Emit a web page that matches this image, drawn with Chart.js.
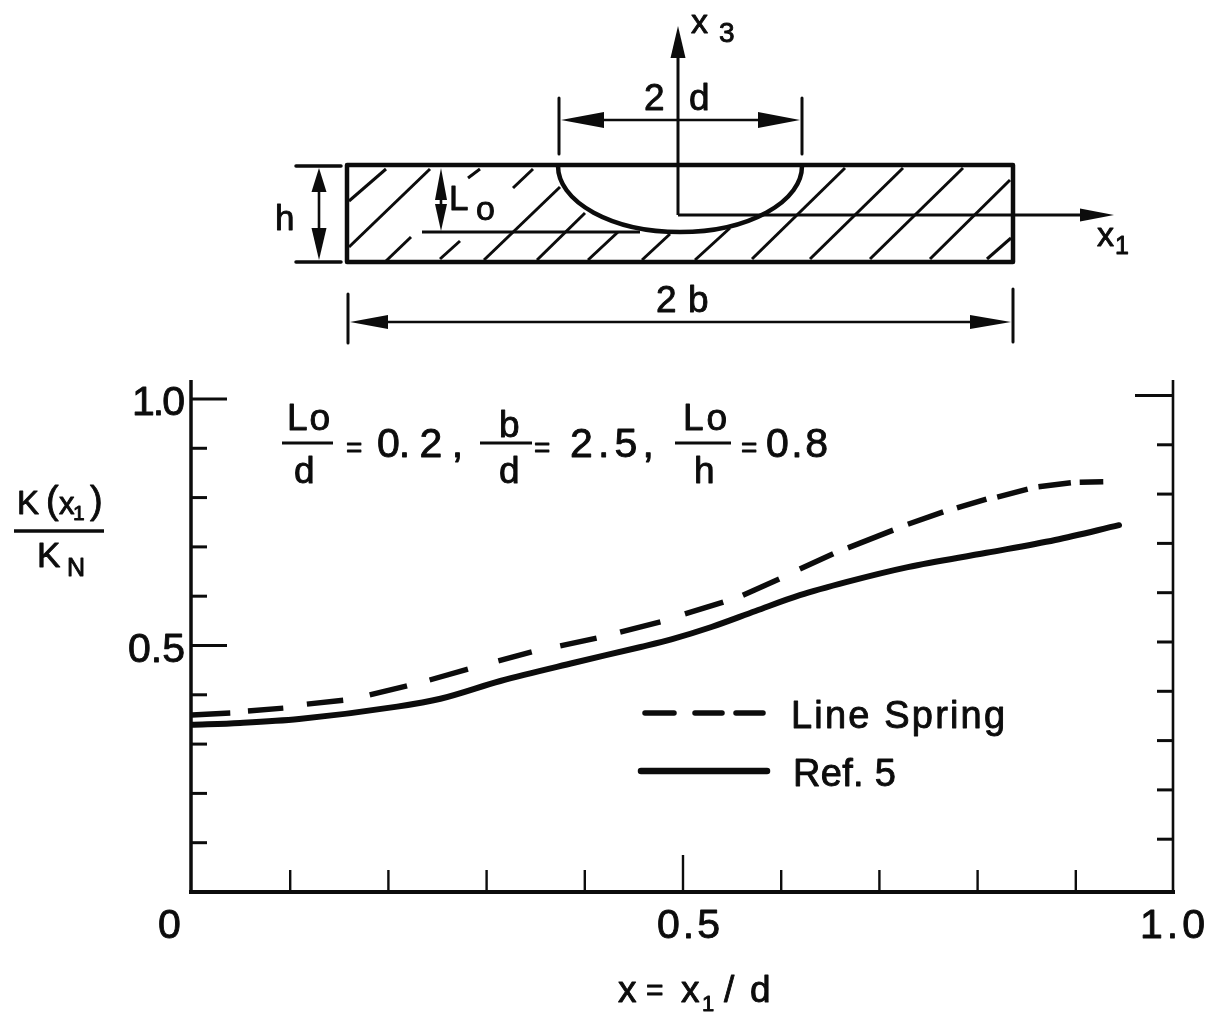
<!DOCTYPE html>
<html>
<head>
<meta charset="utf-8">
<title>K(x1)/KN</title>
<style>html,body{margin:0;padding:0;background:#fff;overflow:hidden}canvas{display:block}</style>
<script src="https://cdn.jsdelivr.net/npm/chart.js@4/dist/chart.umd.js"></script>
</head>
<body>
<canvas id="c" width="1209" height="1013"></canvas>
<script>
// ---- data ----
const refX = [0,.05,.11,.21,.254,.315,.39,.458,.49,.53,.575,.62,.668,.73,.81,.88,.945];
const refY = [.339,.343,.351,.376,.392,.428,.465,.497,.513,.5375,.57,.602,.629,.659,.688,.714,.744];
// Line Spring: points come in pairs, the start and the end of each drawn dash
const springX = [.001,.040,.058,.094,.118,.155,.182,.220,.243,.282,.313,.347,.376,.413,.437,.478,.503,.542,.562,.599,.620,.654,.669,.715,.730,.766,.780,.810,.821,.852,.863,.896,.905,.929];
const springY = [.359,.363,.367,.373,.381,.389,.400,.418,.430,.452,.469,.487,.499,.515,.527,.548,.564,.588,.602,.635,.655,.686,.698,.734,.746,.771,.779,.797,.801,.817,.822,.830,.831,.832];
const xTickLabels = ['0','0.5','1.0'];
const xTickLabelValues = [0,.5,1];
const yTickLabels = ['0.5','1.0'];
const yTickLabelValues = [.5,1];
const seriesNames = ['Line Spring','Ref. 5'];

const INK = '#0c0c0c';
const FONT = '"Liberation Sans", Arial, sans-serif';

function pts(xs, ys){ return xs.map((x,i)=>({x, y:ys[i]})); }

// ---- drawing helpers ----
function T(c, s, x0, x1, base, size){
  c.font = size + 'px ' + FONT;
  c.fillStyle = INK; c.strokeStyle = INK; c.textAlign = 'left'; c.textBaseline = 'alphabetic';
  c.lineWidth = 0.9; c.lineJoin = 'round';
  c.letterSpacing = '0px';
  if (x1 !== null && s.length > 1){
    const w = c.measureText(s).width;
    c.letterSpacing = ((x1 - x0 - w) / (s.length - 1)).toFixed(2) + 'px';
  }
  c.fillText(s, x0, base);
  c.strokeText(s, x0, base);
  c.letterSpacing = '0px';
}
function L(c, x0, y0, x1, y1, w, cap){
  c.beginPath(); c.moveTo(x0,y0); c.lineTo(x1,y1);
  c.lineWidth = w; c.strokeStyle = INK; c.lineCap = cap || 'round'; c.stroke();
}
function head(c, tx, ty, bx, by, hw){
  const dx = bx-tx, dy = by-ty, n = Math.hypot(dx,dy), px = -dy/n*hw, py = dx/n*hw;
  c.beginPath(); c.moveTo(tx,ty); c.lineTo(bx+px,by+py); c.lineTo(bx-px,by-py); c.closePath();
  c.fillStyle = INK; c.fill();
}

const hatches = [
 [349,201,386,169],[349,247,430,169],[386,261,411,237],[440,259,460,241],[468,178,480,169],
 [513,188,533,169],[484,260,560,187],[537,260,585,213],[588,260,618,232],[642,260,670,234],
 [695,260,730,228],[752,259,845,168],[810,259,903,168],[870,259,963,168],[930,259,1010,180],[987,259,1011,238]
];

function drawDiagram(c){
  hatches.forEach(h=>L(c,h[0],h[1],h[2],h[3],3,'butt'));
  // block
  c.strokeStyle = INK; c.lineWidth = 4.5; c.lineJoin = 'round';
  c.strokeRect(347,165,666,97);
  // notch
  c.beginPath(); c.ellipse(680,166,122,66,0,0,Math.PI); c.lineWidth = 4.5; c.lineCap='butt'; c.stroke();
  // axes
  L(c,678,215,678,50,3,'butt'); head(c,678,26,678,58,7.5);
  L(c,678,215,1085,215,3,'butt'); head(c,1114,215,1080,215,6.5);
  // 2d
  L(c,559,98,559,154,3); L(c,802,98,802,154,3);
  L(c,600,120,765,120,2.6,'butt');
  head(c,561,120,604,120,8); head(c,800,120,758,120,8);
  // 2b
  L(c,348,294,348,343,3); L(c,1013,289,1013,342,3);
  L(c,385,322,975,322,2.6,'butt');
  head(c,350,322,388,322,7); head(c,1011,322,970,322,7);
  // h
  L(c,296,166,341,166,3.5); L(c,296,262,341,262,3.5);
  L(c,319,185,319,235,2.6,'butt');
  head(c,319,168,319,192,7.5); head(c,319,260,319,228,7.5);
  // L0
  L(c,422,232,640,232,3,'butt');
  L(c,441,190,441,210,2.6,'butt');
  head(c,441,168,441,200,6); head(c,441,231,441,204,6);
  // labels
  T(c,'x',691,null,33,34); T(c,'3',719,null,42,28);
  T(c,'2',644,null,110,37); T(c,'d',689,null,110,37);
  T(c,'h',275,null,230,35);
  T(c,'L',449,null,210,35); T(c,'o',476,null,220,34);
  T(c,'x',1097,null,246,34); T(c,'1',1115,null,254,25);
  T(c,'2',656,null,312,37); T(c,'b',688,null,312,37);
}

function drawTexts(c, chart){
  const xs = chart.scales.x, ys = chart.scales.y;
  // tick labels, placed from the scales
  const xLeft = [-33,-25,-33], xWide = [null,63,65];
  xTickLabels.forEach((s,i)=>{
    const x0 = xs.getPixelForValue(xTickLabelValues[i])+xLeft[i];
    T(c,s,x0, xWide[i]===null?null:x0+xWide[i], ys.bottom+46, 41);
  });
  const yLeft = [-63,-59], yWide = [57,53];
  yTickLabels.forEach((s,i)=>{
    const x0 = xs.left+yLeft[i];
    T(c,s,x0, x0+yWide[i], ys.getPixelForValue(yTickLabelValues[i])+16.5, 41);
  });
  // x axis title
  T(c,'x',618,null,1002,37); T(c,'=',646,null,1000,30); T(c,'x',681,null,1002,37);
  T(c,'1',702,null,1011,22); T(c,'/',724,null,1002,37); T(c,'d',750,null,1002,37);
  // y axis title
  T(c,'K',17,null,514,33); T(c,'(',46,null,513,38); T(c,'x',59,null,514,31);
  T(c,'1',73,null,520,21); T(c,')',90,null,513,38);
  L(c,14,531,104,531,3.5,'butt');
  T(c,'K',37,null,567,35); T(c,'N',67,null,576,25);
  // parameters
  T(c,'Lo',287,330,430,37); L(c,282,443,333,443,3,'butt'); T(c,'d',294,null,483,37);
  T(c,'=',346,null,457,28); T(c,'0. 2 ,',377,463,457,41);
  T(c,'b',499,null,437,37); L(c,480,443,532,443,3,'butt'); T(c,'d',499,null,483,37);
  T(c,'=',534,null,457,28); T(c,'2.5,',570,654,457,41);
  T(c,'Lo',683,727,430,37); L(c,675,443,731,443,3,'butt'); T(c,'h',694,null,483,37);
  T(c,'=',741,null,457,28); T(c,'0.8',766,828,457,41);
  // legend
  [[645,674],[695,722],[736,763]].forEach(d=>L(c,d[0],713,d[1],713,5.5));
  L(c,641,771,767,771,6.5);
  T(c,seriesNames[0],791,1005,728,38);
  T(c,seriesNames[1],793,896,786,38);
}

const framePlugin = {
  id:'frame',
  afterDraw(chart){
    const c = chart.ctx, a = chart.chartArea, xs = chart.scales.x, ys = chart.scales.y;
    c.save();
    // frame: left, bottom, right, no top
    L(c,a.left,a.top,a.left,a.bottom,3.5,'butt');
    L(c,a.left-2,a.bottom,a.right+2,a.bottom,4,'butt');
    L(c,a.right,a.top,a.right,a.bottom,2.6,'butt');
    // inward ticks taken from the scales
    ys.ticks.forEach(t=>{
      if (t.value <= 0) return;
      const y = ys.getPixelForValue(t.value);
      const major = Math.abs(t.value*2 - Math.round(t.value*2)) < 1e-6;
      L(c,a.left,y,a.left+(major?36:16),y,3,'butt');
      const top = Math.abs(t.value-1) < 1e-6;
      L(c,a.right,y-3.5,a.right-(top?38:16),y-3.5,3,'butt');
    });
    xs.ticks.forEach(t=>{
      if (t.value <= 0 || t.value >= 1) return;
      const x = xs.getPixelForValue(t.value)+1;
      const major = Math.abs(t.value-.5) < 1e-6;
      L(c,x,a.bottom,x,a.bottom-(major?37:22),2.4,'butt');
    });
    drawDiagram(c);
    drawTexts(c,chart);
    c.restore();
  }
};

new Chart(document.getElementById('c').getContext('2d'),{
  type:'line',
  data:{datasets:[
    {label:seriesNames[0], data:pts(springX,springY), borderColor:INK, borderWidth:5.4, borderCapStyle:'butt', pointRadius:0, tension:0,
     segment:{borderColor:ctx=>ctx.p0DataIndex%2===0?INK:'rgba(0,0,0,0)'}},
    {label:seriesNames[1], data:pts(refX,refY), borderColor:INK, borderWidth:6, borderCapStyle:'round', pointRadius:0, cubicInterpolationMode:'monotone'}
  ]},
  options:{
    responsive:false, animation:false, devicePixelRatio:1,
    layout:{padding:{left:191,top:380,right:36,bottom:121}},
    plugins:{legend:{display:false},tooltip:{enabled:false},title:{display:false}},
    scales:{
      x:{type:'linear',min:0,max:1,grid:{display:false},border:{display:false},
         ticks:{display:false,stepSize:.1},afterFit:s=>{s.height=0;}},
      y:{type:'linear',min:0,max:1.0385,grid:{display:false},border:{display:false},
         ticks:{display:false,stepSize:.1,includeBounds:false},afterFit:s=>{s.width=0;}}
    }
  },
  plugins:[framePlugin]
});
</script>
</body>
</html>
